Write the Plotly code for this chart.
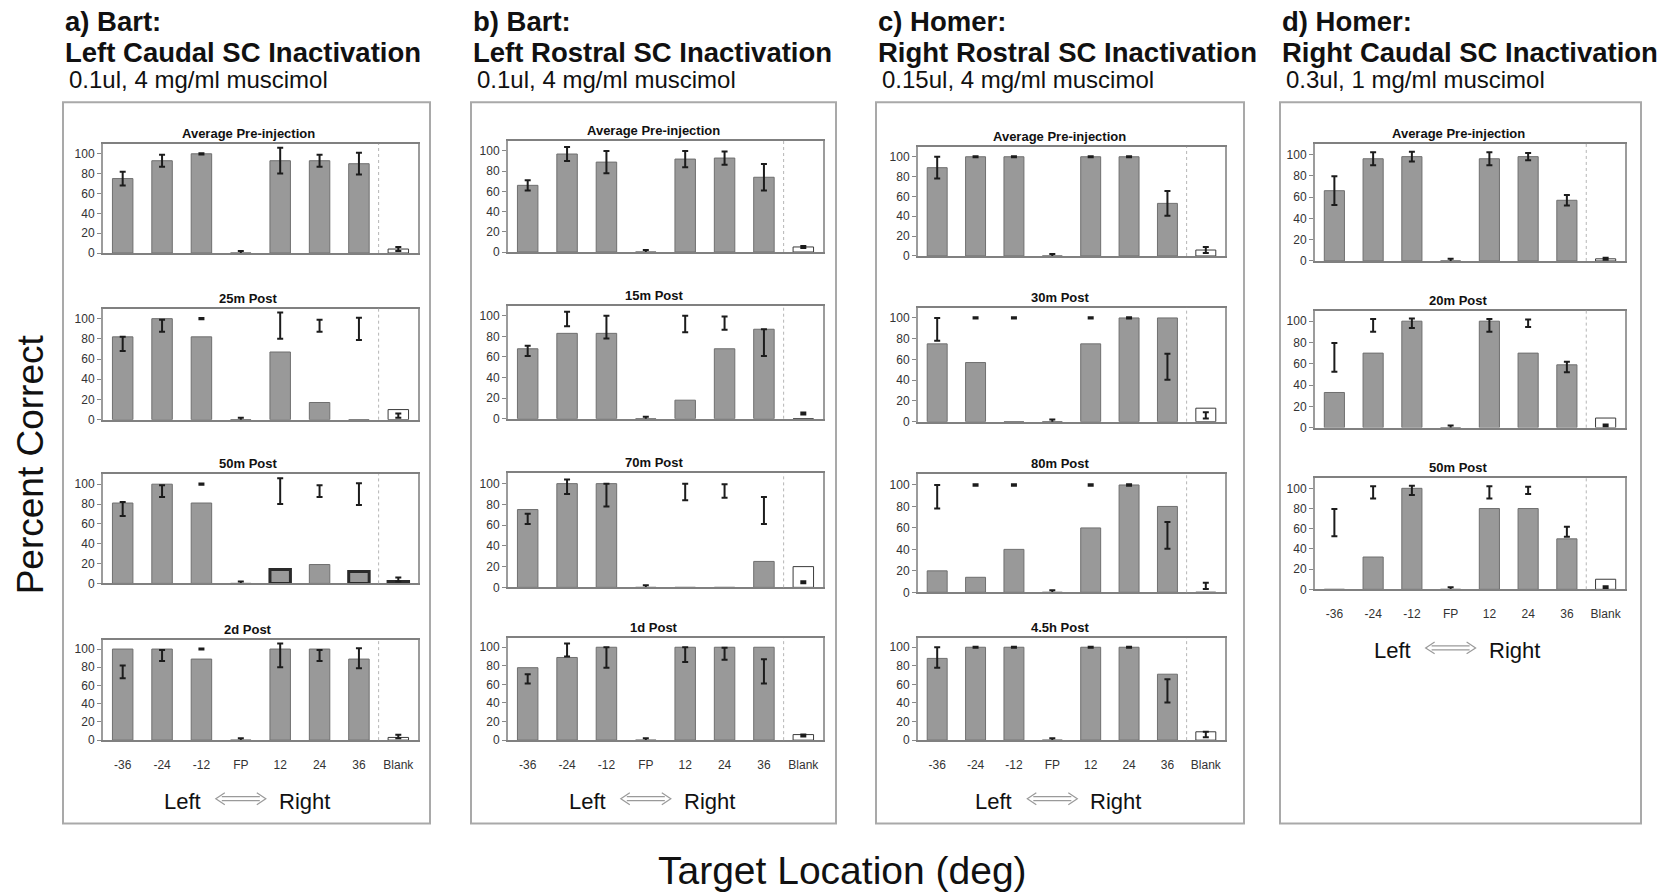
import plotly.graph_objects as go

# ---------------- data ----------------
CATEGORIES = ["-36", "-24", "-12", "FP", "12", "24", "36", "Blank"]

# a) Bart: Left Caudal SC Inactivation
A_PRE_MEAN = [75, 93, 100, 0, 93, 93, 90, 4]
A_PRE_SD = [7, 6, 0.6, 2, 13, 6, 11, 2]
A_25M = [82, 100, 82, 0, 67, 17, 0, 10]
A_50M = [81, 100, 81, 0, 14, 19, 12, 2]
A_2D = [100, 100, 89, 0, 100, 100, 89, 3]

# b) Bart: Left Rostral SC Inactivation
B_PRE_MEAN = [66, 97, 89, 0, 92, 93, 74, 5]
B_PRE_SD = [5, 7, 11, 2, 8, 6.5, 13, 1]
B_15M = [68, 83, 83, 0, 18, 68, 87, 0]
B_70M = [75, 100, 100, 0, 0, 0, 25, 20]
B_1D = [78, 89, 100, 0, 100, 100, 100, 6]

# c) Homer: Right Rostral SC Inactivation
C_PRE_MEAN = [89, 100, 100, 0, 100, 100, 53, 6]
C_PRE_SD = [11, 0.6, 0.6, 2, 0.6, 0.6, 12.5, 3]
C_30M = [75, 57, 0, 0, 75, 100, 100, 13]
C_80M = [20, 14, 40, 0, 60, 100, 80, 0]
C_4H = [88, 100, 100, 0, 100, 100, 71, 9]

# d) Homer: Right Caudal SC Inactivation
D_PRE_MEAN = [66, 96, 98, 0, 96, 98, 57, 2]
D_PRE_SD = [13.5, 6, 4.5, 2, 6, 3.5, 5, 1]
D_20M = [33, 70, 100, 0, 100, 70, 59, 9]
D_50M = [0, 32, 100, 0, 80, 80, 50, 10]

HEADERS = [
    ["a) Bart:", "Left Caudal SC Inactivation", "0.1ul, 4 mg/ml muscimol"],
    ["b) Bart:", "Left Rostral SC Inactivation", "0.1ul, 4 mg/ml muscimol"],
    ["c) Homer:", "Right Rostral SC Inactivation", "0.15ul, 4 mg/ml muscimol"],
    ["d) Homer:", "Right Caudal SC Inactivation", "0.3ul, 1 mg/ml muscimol"],
]
ROW_TITLES = [
    ["Average Pre-injection", "25m Post", "50m Post", "2d Post"],
    ["Average Pre-injection", "15m Post", "70m Post", "1d Post"],
    ["Average Pre-injection", "30m Post", "80m Post", "4.5h Post"],
    ["Average Pre-injection", "20m Post", "50m Post"],
]
ROW_VALUES = [
    [A_PRE_MEAN, A_25M, A_50M, A_2D],
    [B_PRE_MEAN, B_15M, B_70M, B_1D],
    [C_PRE_MEAN, C_30M, C_80M, C_4H],
    [D_PRE_MEAN, D_20M, D_50M],
]
PRE_MEANS = [A_PRE_MEAN, B_PRE_MEAN, C_PRE_MEAN, D_PRE_MEAN]
PRE_SDS = [A_PRE_SD, B_PRE_SD, C_PRE_SD, D_PRE_SD]
Y_TICKS = [0, 20, 40, 60, 80, 100]

# ---------------- geometry / style ----------------
W, H = 1669, 893
GEOM = [
    dict(px=(103, 418), box=(63, 103, 430, 830), rows=[(145, 255), (311, 423), (478, 588), (645, 746)]),
    dict(px=(508, 823), box=(471, 103, 836, 830), rows=[(142, 254), (308, 422), (477, 592), (643, 746)]),
    dict(px=(918, 1225), box=(876, 103, 1244, 830), rows=[(148, 258), (310, 425), (478, 597), (643, 746)]),
    dict(px=(1315, 1625), box=(1280, 103, 1641, 830), rows=[(145, 263), (313, 431), (482, 594)]),
]
# emphasized (heavy outline) bars: (column, row) -> category indices
EMPH = {(0, 2): [4, 6, 7]}

FONT = "Liberation Sans, Arial, sans-serif"
BAR_FILL = "#999999"
BAR_LINE = "#6f6f6f"
FRAME = "#9c9c9c"


def fx(x):
    return x / W


def fy(y):
    return 1 - y / H


fig = go.Figure()
layout = dict(
    width=W, height=H, margin=dict(l=0, r=0, t=0, b=0),
    paper_bgcolor="white", plot_bgcolor="white", showlegend=False,
    font=dict(family=FONT, color="#222"),
)
shapes = []
annotations = []

n = 0
for c, g in enumerate(GEOM):
    x0p, x1p = g["px"]
    bx0, by0, bx1, by1 = g["box"]
    shapes.append(dict(type="rect", xref="paper", yref="paper",
                       x0=fx(bx0), x1=fx(bx1), y0=fy(by1), y1=fy(by0),
                       line=dict(color="#a9a9a9", width=2), layer="below"))
    # headers
    for txt, yy, bold, dx in [
        (HEADERS[c][0], 22, True, 0),
        (HEADERS[c][1], 53, True, 0),
        (HEADERS[c][2], 80, False, 4),
    ]:
        annotations.append(dict(
            xref="paper", yref="paper", x=fx(bx0 + dx), y=fy(yy),
            xanchor="left", yanchor="middle", showarrow=False,
            text=("<b>%s</b>" % txt) if bold else txt,
            font=dict(family=FONT, size=27.5 if bold else 24, color="#111"),
        ))
    nrows = len(g["rows"])
    for r, (top, zero) in enumerate(g["rows"]):
        n += 1
        sfx = "" if n == 1 else str(n)
        xa = "xaxis" + sfx
        ya = "yaxis" + sfx
        xr = "x" + sfx
        yr = "y" + sfx
        last = (r == nrows - 1)
        layout[xa] = dict(
            domain=[fx(x0p), fx(x1p)], anchor=yr, type="category",
            categoryorder="array", categoryarray=CATEGORIES,
            range=[-0.5, len(CATEGORIES) - 0.5],
            showline=True, linecolor="#808080", linewidth=2, mirror=True,
            showgrid=False, zeroline=False,
            ticks="outside", ticklen=12, tickcolor="rgba(0,0,0,0)",
            showticklabels=last,
            tickfont=dict(family=FONT, size=12, color="#333"),
        )
        layout[ya] = dict(
            domain=[fy(zero), fy(top)], anchor=xr, range=[0, 110],
            tickvals=Y_TICKS, showline=True, linecolor=FRAME, linewidth=2,
            mirror=True, showgrid=False, zeroline=False,
            ticks="outside", ticklen=4, tickcolor="#888",
            tickfont=dict(family=FONT, size=12, color="#333"),
        )
        vals = ROW_VALUES[c][r]
        fills = ["white" if cat == "Blank" else BAR_FILL for cat in CATEGORIES]
        lcols = ["#3a3a3a" if cat == "Blank" else BAR_LINE for cat in CATEGORIES]
        lw = [1] * len(CATEGORIES)
        for k in EMPH.get((c, r), []):
            lcols[k] = "#2a2a2a"
            lw[k] = 3
        fig.add_trace(go.Bar(
            x=CATEGORIES, y=vals, xaxis=xr, yaxis=yr, width=0.52,
            marker=dict(color=fills, line=dict(color=lcols, width=lw)),
            hoverinfo="skip",
        ))
        fig.add_trace(go.Scatter(
            x=CATEGORIES, y=PRE_MEANS[c], xaxis=xr, yaxis=yr, mode="markers",
            marker=dict(size=1, color="rgba(0,0,0,0)"),
            error_y=dict(type="data", array=PRE_SDS[c], visible=True,
                         color="#1c1c1c", thickness=2, width=3),
            hoverinfo="skip",
        ))
        # dotted separator before "Blank"
        shapes.append(dict(type="line", xref=xr, yref="%s domain" % yr,
                           x0=len(CATEGORIES) - 1.5, x1=len(CATEGORIES) - 1.5,
                           y0=0, y1=1, line=dict(color="#b5b5b5", width=1, dash="dot")))
        # row title
        annotations.append(dict(
            xref="paper", yref="paper", x=fx((x0p + x1p) / 2 - 12), y=fy(top - 1),
            xanchor="center", yanchor="bottom", showarrow=False,
            text="<b>%s</b>" % ROW_TITLES[c][r],
            font=dict(family=FONT, size=13, color="#111"),
        ))
        if last:
            slot = (x1p - x0p) / len(CATEGORIES)
            fp_x = x0p + slot * (CATEGORIES.index("FP") + 0.5)
            ly = zero + 62
            annotations.append(dict(
                xref="paper", yref="paper", x=fx(fp_x - 38), y=fy(ly),
                xanchor="right", yanchor="middle", showarrow=False,
                text="Left", font=dict(family=FONT, size=22, color="#111")))
            annotations.append(dict(
                xref="paper", yref="paper", x=fx(fp_x + 36), y=fy(ly),
                xanchor="left", yanchor="middle", showarrow=False,
                text="Right", font=dict(family=FONT, size=22, color="#111")))
            ay = ly - 3
            ax0, ax1 = fp_x - 25, fp_x + 25
            path = (
                "M %f,%f L %f,%f L %f,%f " % (fx(ax0 + 9), fy(ay - 6), fx(ax0), fy(ay), fx(ax0 + 9), fy(ay + 6))
                + "M %f,%f L %f,%f L %f,%f " % (fx(ax1 - 9), fy(ay - 6), fx(ax1), fy(ay), fx(ax1 - 9), fy(ay + 6))
                + "M %f,%f L %f,%f " % (fx(ax0 + 6), fy(ay - 2), fx(ax1 - 6), fy(ay - 2))
                + "M %f,%f L %f,%f" % (fx(ax0 + 6), fy(ay + 2), fx(ax1 - 6), fy(ay + 2))
            )
            shapes.append(dict(type="path", xref="paper", yref="paper", path=path,
                               line=dict(color="#9a9a9a", width=1.2)))

annotations.append(dict(
    xref="paper", yref="paper", x=fx(30), y=fy(468), textangle=-90,
    xanchor="center", yanchor="middle", showarrow=False,
    text="Percent Correct", font=dict(family=FONT, size=37, color="#111")))
annotations.append(dict(
    xref="paper", yref="paper", x=fx(842), y=fy(877),
    xanchor="center", yanchor="middle", showarrow=False,
    text="Target Location (deg)", font=dict(family=FONT, size=39, color="#111")))

layout["shapes"] = shapes
layout["annotations"] = annotations
layout["bargap"] = 0.5
fig.update_layout(**layout)
fig.write_html("out.html")
